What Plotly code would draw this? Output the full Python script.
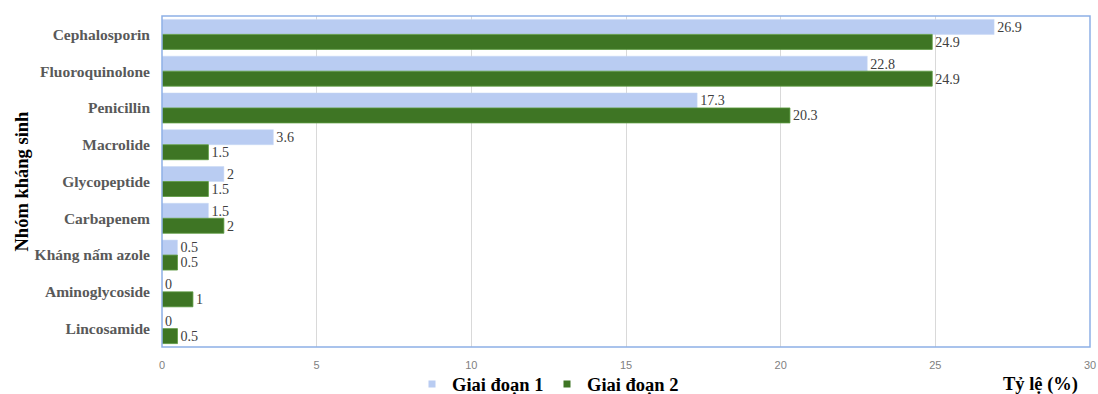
import plotly.graph_objects as go

categories = ["Cephalosporin", "Fluoroquinolone", "Penicillin", "Macrolide", "Glycopeptide",
              "Carbapenem", "Kháng nấm azole", "Aminoglycoside", "Lincosamide"]
giai_doan_1 = [26.9, 22.8, 17.3, 3.6, 2, 1.5, 0.5, 0, 0]
giai_doan_2 = [24.9, 24.9, 20.3, 1.5, 1.5, 2, 0.5, 1, 0.5]
x_ticks = [0, 5, 10, 15, 20, 25, 30]

FONT = "Liberation Serif, Times New Roman, serif"
SANS = "Liberation Sans, Arial, sans-serif"
C1 = "#B9CCF2"
C2 = "#3E7524"

fig = go.Figure()
fig.add_trace(go.Bar(
    y=categories, x=giai_doan_1, orientation="h", name="Giai đoạn 1", showlegend=False,
    marker=dict(color=C1, line=dict(color="#C9D8F5", width=0.5)),
    text=[str(v) for v in giai_doan_1], textposition="outside", cliponaxis=False,
    textfont=dict(family=FONT, size=16, color="#404040"),
))
fig.add_trace(go.Bar(
    y=categories, x=giai_doan_2, orientation="h", name="Giai đoạn 2", showlegend=False,
    marker=dict(color=C2, line=dict(color="#5C9A40", width=0.8)),
    text=[str(v) for v in giai_doan_2], textposition="outside", cliponaxis=False,
    textfont=dict(family=FONT, size=16, color="#404040"),
))
# legend-only entries with small square symbols
fig.add_trace(go.Scatter(x=[None], y=[None], mode="markers", name="Giai đoạn 1",
                         marker=dict(symbol="square", size=7, color=C1)))
fig.add_trace(go.Scatter(x=[None], y=[None], mode="markers", name="Giai đoạn 2",
                         marker=dict(symbol="square", size=7, color=C2)))

fig.update_layout(
    width=1098, height=394,
    margin=dict(l=162, r=8, t=16, b=47, autoexpand=False),
    paper_bgcolor="white", plot_bgcolor="white",
    barmode="group", bargap=0.185, bargroupgap=0,
    font=dict(family=FONT),
    showlegend=True,
    legend=dict(orientation="h", x=(412 - 162) / 928, y=0.024, yref="container",
                xanchor="left", yanchor="middle", bgcolor="rgba(0,0,0,0)",
                font=dict(family=FONT, size=18.5, color="black", weight="bold"),
                itemwidth=30, traceorder="normal", entrywidth=90, entrywidthmode="pixels"),
    xaxis=dict(range=[0, 30], tickvals=x_ticks, showgrid=True, gridcolor="#D9D9D9",
               gridwidth=1, zeroline=False, showline=False, ticklabelstandoff=10,
               tickfont=dict(family=SANS, size=11, color="#7F7F7F"), ticks=""),
    yaxis=dict(autorange="reversed", showgrid=False, zeroline=False, showline=False,
               ticks="", ticklabelstandoff=11,
               tickfont=dict(family=FONT, size=15.5, color="#595959", weight="bold")),
    shapes=[dict(type="rect", xref="paper", yref="paper", x0=0, x1=1, y0=0, y1=1,
                 line=dict(color="#8DB0E6", width=1.5), layer="above")],
    annotations=[
        dict(text="<b>Tỷ lệ (%)</b>", xref="paper", yref="paper", x=(1080 - 162) / 928, y=-0.112,
             xanchor="right", yanchor="middle", showarrow=False,
             font=dict(family=FONT, size=18.5, color="black")),
        dict(text="<b>Nhóm kháng sinh</b>", xref="paper", yref="paper", x=(21 - 162) / 928, y=0.5,
             xanchor="center", yanchor="middle", textangle=-90, showarrow=False,
             font=dict(family=FONT, size=18.5, color="black")),
    ],
)

fig.write_html("out.html")
